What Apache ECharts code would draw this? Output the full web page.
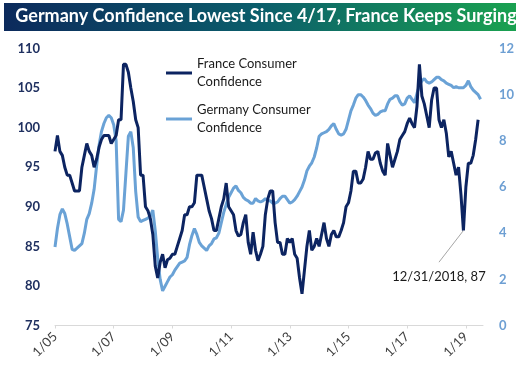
<!DOCTYPE html>
<html><head><meta charset="utf-8">
<script src="https://cdn.jsdelivr.net/npm/echarts@6/dist/echarts.min.js"></script>
<style>html,body{margin:0;padding:0;background:#fff}#c{width:532px;height:367px}</style>
</head><body><div id="c"></div>
<script>
const titleText = 'Germany Confidence Lowest Since 4/17, France Keeps Surging';
const startYear = 2005;
const monthCount = 176; // Jan 2005 .. Aug 2019
const tickLabels = ['1/05','1/07','1/09','1/11','1/13','1/15','1/17','1/19'];
const franceName = 'France Consumer\nConfidence';
const germanyName = 'Germany Consumer\nConfidence';

// France consumer confidence, monthly Jan 2005 .. Jun 2019 (left axis)
const france2005 = [97, 99, 97, 96.5, 95, 94, 94, 93, 92, 92, 92, 95];
const france2006 = [96.5, 98, 97, 96.5, 95, 96, 97.5, 98.5, 99, 99, 99, 98];
const france2007 = [98.5, 99, 101, 101, 108, 108, 107, 105, 103.3, 101, 100, 94];
const france2008 = [94, 90, 89.5, 88.5, 86.5, 82.5, 81, 83, 84, 82.3, 83.3, 83.5];
const france2009 = [84, 84, 85, 86, 87, 89, 89, 90, 90, 90.5, 94, 94];
const france2010 = [94, 92.5, 91, 89.5, 88.5, 87, 87, 88.5, 90, 91, 93, 90];
const france2011 = [89.5, 89, 87, 86.3, 86.5, 88, 89, 85.5, 84, 86.8, 84.5, 83.2];
const france2012 = [84, 85, 89, 91, 92, 92, 88, 85.5, 85.5, 84, 84, 86];
const france2013 = [85.5, 86, 84, 83.5, 81, 79, 82, 85, 87, 84.5, 85, 86];
const france2014 = [85, 86.5, 88, 86, 85, 86.5, 87, 86.2, 86.2, 87, 88, 90];
const france2015 = [90.5, 92, 94.5, 94.5, 93, 93, 93.5, 95, 97, 96, 96, 96.8];
const france2016 = [97, 95.5, 94.5, 94, 98, 96.5, 95, 96, 97, 98.5, 99, 99.5];
const france2017 = [100.5, 101.2, 100.5, 100, 102.7, 108, 104, 103, 101.5, 100, 103.5, 105];
const france2018 = [105, 101, 100, 101, 99.3, 96.3, 97, 95.5, 94, 95, 91.5, 87];
const france2019 = [92.5, 95.5, 95.5, 96.5, 98.5, 101];

// Germany consumer confidence, monthly Jan 2005 .. Jul 2019 (right axis)
const germany2005 = [3.4, 4.2, 4.8, 5.05, 4.85, 4.4, 3.85, 3.3, 3.25, 3.35, 3.45, 3.55];
const germany2006 = [4.0, 4.6, 4.85, 5.3, 5.9, 6.9, 7.8, 8.4, 8.75, 9.0, 9.1, 9.0];
const germany2007 = [8.7, 8.0, 4.6, 4.5, 5.0, 6.6, 8.2, 8.4, 7.7, 5.8, 4.7, 4.5];
const germany2008 = [4.55, 4.6, 4.65, 4.75, 5.0, 4.1, 2.9, 2.0, 1.5, 1.7, 1.9, 2.1];
const germany2009 = [2.2, 2.4, 2.55, 2.7, 2.75, 2.8, 2.95, 3.5, 3.9, 4.2, 3.95, 3.6];
const germany2010 = [3.45, 3.35, 3.25, 3.45, 3.55, 3.75, 3.8, 4.0, 4.45, 4.9, 5.25, 5.55];
const germany2011 = [5.75, 5.95, 6.05, 5.85, 5.75, 5.55, 5.45, 5.4, 5.3, 5.3, 5.5, 5.4];
const germany2012 = [5.35, 5.4, 5.5, 5.4, 5.4, 5.3, 5.3, 5.35, 5.5, 5.6, 5.6, 5.45];
const germany2013 = [5.3, 5.35, 5.45, 5.6, 5.8, 6.0, 6.3, 6.7, 6.9, 7.05, 7.3, 7.7];
const germany2014 = [8.2, 8.3, 8.35, 8.4, 8.5, 8.65, 8.75, 8.5, 8.3, 8.25, 8.3, 8.5];
const germany2015 = [8.9, 9.3, 9.55, 9.85, 10.0, 10.0, 9.9, 9.75, 9.55, 9.4, 9.2, 9.1];
const germany2016 = [9.15, 9.25, 9.3, 9.3, 9.6, 9.8, 9.85, 9.95, 9.95, 9.7, 9.55, 9.6];
const germany2017 = [9.85, 9.95, 9.8, 9.65, 10.05, 10.4, 10.6, 10.7, 10.55, 10.5, 10.55, 10.65];
const germany2018 = [10.75, 10.75, 10.65, 10.6, 10.5, 10.45, 10.4, 10.3, 10.35, 10.3, 10.3, 10.3];
const germany2019 = [10.4, 10.6, 10.35, 10.2, 10.1, 10.0, 9.8];

// annotation
const annotationText = '12/31/2018, 87';
const annotationCategory = '12/18';
const annotationValue = 87;
const annotationLineEnd = ['2/18', 83];
const annotationLabelAt = ['2/18', 81.2];

const france = [].concat(france2005, france2006, france2007, france2008, france2009, france2010,
  france2011, france2012, france2013, france2014, france2015, france2016, france2017, france2018, france2019);
const germany = [].concat(germany2005, germany2006, germany2007, germany2008, germany2009, germany2010,
  germany2011, germany2012, germany2013, germany2014, germany2015, germany2016, germany2017, germany2018, germany2019);

const categories = [];
for (let i = 0; i < monthCount; i++) {
  const m = i % 12 + 1;
  const y = (startYear + Math.floor(i / 12)) % 100;
  categories.push(m + '/' + String(y).padStart(2, '0'));
}

const FONT = 'Lato, "Open Sans", sans-serif';
const chart = echarts.init(document.getElementById('c'), null, {renderer: 'canvas'});
const showTick = (idx, val) => tickLabels.indexOf(val) >= 0;

const legendBase = {
  left: 166, orient: 'vertical', icon: 'rect', itemWidth: 26, itemHeight: 3, padding: 0,
  selectedMode: false,
  textStyle: {fontFamily: FONT, fontSize: 13, color: '#1a1a1a', lineHeight: 18, padding: [18, 0, 0, 0]}
};

chart.setOption({
  animation: false,
  backgroundColor: '#ffffff',
  graphic: [
    {
      type: 'rect', left: 4, top: 3, z: 10,
      shape: {width: 512, height: 28},
      style: {fill: new echarts.graphic.LinearGradient(0, 0, 1, 0, [
        {offset: 0, color: '#0c2a5c'},
        {offset: 0.5, color: '#0b5e6b'},
        {offset: 1, color: '#1aa150'}
      ])}
    },
    {
      type: 'text', left: 'center', top: 7, z: 11,
      style: {text: titleText, fill: '#ffffff', font: 'bold 18px ' + FONT}
    }
  ],
  legend: [
    Object.assign({}, legendBase, {top: 46, data: [franceName]}),
    Object.assign({}, legendBase, {top: 92, data: [germanyName]})
  ],
  grid: {left: 55, right: 49, top: 48.5, bottom: 41.5, containLabel: false},
  xAxis: {
    type: 'category', data: categories, boundaryGap: false,
    axisLine: {show: true, lineStyle: {color: '#d9d9d9', width: 1}},
    axisTick: {show: true, interval: showTick, length: 3, lineStyle: {color: '#d9d9d9'}},
    axisLabel: {interval: showTick, rotate: 45, margin: 9, fontFamily: FONT, fontSize: 13, color: '#404040'},
    splitLine: {show: false}
  },
  yAxis: [
    {
      type: 'value', min: 75, max: 110, interval: 5, position: 'left',
      axisLine: {show: false}, axisTick: {show: false}, splitLine: {show: false},
      axisLabel: {margin: 15, fontFamily: FONT, fontSize: 13, fontWeight: 'bold', color: '#1f3060'}
    },
    {
      type: 'value', min: 0, max: 12, interval: 2, position: 'right',
      axisLine: {show: false}, axisTick: {show: false}, splitLine: {show: false},
      axisLabel: {margin: 16, fontFamily: FONT, fontSize: 13, fontWeight: 'bold', color: '#6d9fd3'}
    }
  ],
  series: [
    {
      name: germanyName, type: 'line', yAxisIndex: 1, data: germany,
      showSymbol: false, symbol: 'none', z: 2,
      lineStyle: {color: '#6aa2d6', width: 3}, itemStyle: {color: '#6aa2d6'}
    },
    {
      name: franceName, type: 'line', yAxisIndex: 0, data: france,
      showSymbol: false, symbol: 'none', z: 3,
      lineStyle: {color: '#0c2461', width: 3}, itemStyle: {color: '#0c2461'},
      markLine: {
        silent: true, symbol: ['none', 'none'], animation: false,
        lineStyle: {color: '#a6a6a6', width: 1, type: 'solid'},
        label: {show: false},
        data: [[{coord: [annotationCategory, annotationValue]}, {coord: annotationLineEnd}]]
      },
      markPoint: {
        silent: true, symbol: 'circle', symbolSize: 0,
        data: [{coord: annotationLabelAt}],
        label: {show: true, position: 'inside', formatter: annotationText,
          fontFamily: FONT, fontSize: 13, color: '#1a1a1a'}
      }
    }
  ]
});
</script>
</body></html>
